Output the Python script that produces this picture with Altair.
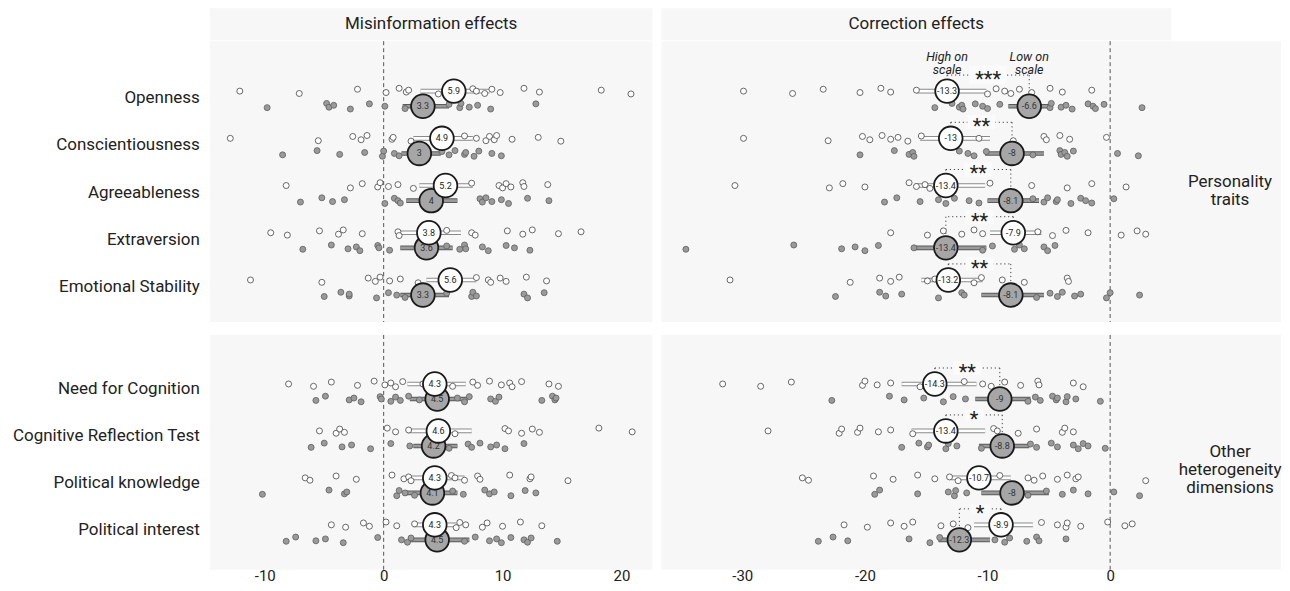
import altair as alt
import pandas as pd

# ---------------- data ----------------
TRAITS = ["Openness", "Conscientiousness", "Agreeableness", "Extraversion", "Emotional Stability"]
OTHER = ["Need for Cognition", "Cognitive Reflection Test", "Political knowledge", "Political interest"]

COL_TITLES = ["Misinformation effects", "Correction effects"]
ROW_TITLES = ["Personality\ntraits", "Other\nheterogeneity\ndimensions"]
ANNOT = ["High on\nscale", "Low on\nscale"]

# (estimate, CI low, CI high)
MIS_HIGH = {
    "Openness": (5.9, 3.1, 8.9), "Conscientiousness": (4.9, 2.5, 7.5), "Agreeableness": (5.2, 3.0, 7.5),
    "Extraversion": (3.8, 1.2, 6.5), "Emotional Stability": (5.6, 3.6, 7.8),
    "Need for Cognition": (4.3, 2.0, 6.9), "Cognitive Reflection Test": (4.6, 2.0, 7.4),
    "Political knowledge": (4.3, 2.2, 6.8), "Political interest": (4.3, 2.5, 6.1),
}
MIS_LOW = {
    "Openness": (3.3, 1.6, 5.5), "Conscientiousness": (3.0, 1.5, 4.8), "Agreeableness": (4.0, 1.9, 6.2),
    "Extraversion": (3.6, 1.4, 5.8), "Emotional Stability": (3.3, 1.4, 5.5),
    "Need for Cognition": (4.5, 2.2, 7.1), "Cognitive Reflection Test": (4.2, 2.5, 6.2),
    "Political knowledge": (4.1, 1.8, 6.2), "Political interest": (4.5, 2.1, 7.2),
}
COR_HIGH = {
    "Openness": (-13.3, -15.8, -10.1), "Conscientiousness": (-13.0, -15.5, -9.8), "Agreeableness": (-13.4, -15.9, -10.2),
    "Extraversion": (-7.9, -9.8, -5.6), "Emotional Stability": (-13.2, -15.4, -10.4),
    "Need for Cognition": (-14.3, -17.0, -10.9), "Cognitive Reflection Test": (-13.4, -16.2, -10.2),
    "Political knowledge": (-10.7, -13.0, -8.1), "Political interest": (-8.9, -11.1, -6.3),
}
COR_LOW = {
    "Openness": (-6.6, -8.3, -4.7), "Conscientiousness": (-8.0, -10.2, -5.4), "Agreeableness": (-8.1, -10.0, -5.8),
    "Extraversion": (-13.4, -16.0, -10.1), "Emotional Stability": (-8.1, -10.5, -5.4),
    "Need for Cognition": (-9.0, -11.0, -6.5), "Cognitive Reflection Test": (-8.8, -10.7, -6.6),
    "Political knowledge": (-8.0, -10.5, -5.0), "Political interest": (-12.3, -14.0, -9.8),
}
COR_STARS = {
    "Openness": "***", "Conscientiousness": "**", "Agreeableness": "**", "Extraversion": "**",
    "Emotional Stability": "**", "Need for Cognition": "**", "Cognitive Reflection Test": "*",
    "Political knowledge": "", "Political interest": "*",
}

# individual study estimates
MIS_PTS_HIGH = {
    "Openness": [-12.1, -7.1, -2.2, 0.2, 1.3, 1.9, 2.1, 4.6, 7.5, 7.8, 8.5, 9.1, 9.8, 11.8, 13.1, 18.3, 20.8],
    "Conscientiousness": [-12.9, -5.5, -2.6, -1.9, -1.4, 0.7, 0.8, 2.3, 6.8, 7.8, 8.6, 8.9, 9.3, 9.5, 10.8, 13.0, 14.9],
    "Agreeableness": [-8.2, -2.8, -1.8, -0.5, -0.3, 0.4, 1.2, 2.5, 7.4, 9.7, 10.0, 10.3, 10.7, 11.7, 11.8, 13.8],
    "Extraversion": [-9.5, -8.1, -5.4, -3.8, -3.4, -1.8, 1.2, 1.3, 5.3, 7.4, 7.7, 10.4, 11.7, 12.5, 14.7, 16.6],
    "Emotional Stability": [-11.2, -5.2, -1.3, -0.7, -0.3, 0.5, 1.4, 2.9, 7.8, 8.8, 9.0, 9.8, 10.3, 12.0, 13.7],
    "Need for Cognition": [-8.0, -5.9, -4.4, -2.2, -0.8, 0.1, 0.6, 1.0, 1.6, 3.3, 5.8, 7.5, 7.9, 8.9, 9.9, 10.6, 10.8, 11.6, 13.9, 14.7],
    "Cognitive Reflection Test": [-5.4, -4.0, -3.7, -3.3, 0.3, 1.0, 2.1, 6.0, 10.2, 10.5, 11.6, 12.5, 13.1, 18.1, 20.9],
    "Political knowledge": [-6.6, -6.2, -4.0, -2.3, 0.7, 1.7, 2.1, 2.3, 5.7, 6.0, 6.8, 7.9, 8.1, 10.6, 12.3, 12.4, 15.5],
    "Political interest": [-4.4, -3.2, -1.7, -1.2, 0.2, 1.1, 2.6, 6.1, 6.4, 6.9, 8.3, 8.7, 10.0, 11.5, 13.3],
}
MIS_PTS_LOW = {
    "Openness": [-9.8, -4.8, -4.6, -4.2, -2.8, -1.2, 0.1, 1.8, 5.5, 6.4, 6.5, 7.2, 7.9, 9.0, 12.8],
    "Conscientiousness": [-8.5, -5.6, -3.7, -1.6, -0.1, 0.0, 0.9, 1.3, 4.9, 5.5, 6.0, 6.8, 6.9, 7.6, 8.0, 9.1, 9.9],
    "Agreeableness": [-7.0, -5.2, -4.3, -3.3, 0.1, 0.9, 1.2, 1.4, 8.1, 8.3, 8.6, 9.1, 9.9, 10.5, 12.1, 13.9],
    "Extraversion": [-6.8, -4.4, -3.0, -2.3, -2.0, -0.5, -0.4, 0.5, 5.3, 6.4, 6.8, 6.9, 8.3, 8.8, 10.3, 11.0, 12.3],
    "Emotional Stability": [-5.0, -3.6, -2.9, -2.9, -0.6, 0.4, 1.1, 1.8, 5.3, 7.4, 7.5, 7.8, 11.8, 12.1, 13.5],
    "Need for Cognition": [-5.7, -4.9, -2.9, -2.5, -1.9, -0.3, -0.2, 0.6, 1.0, 1.4, 2.1, 3.0, 6.2, 6.8, 7.2, 9.0, 9.4, 9.7, 13.3, 14.2, 14.4, 14.5],
    "Cognitive Reflection Test": [-6.1, -5.0, -3.5, -2.7, -1.1, 0.6, 2.2, 5.5, 7.1, 7.4, 8.1, 9.0, 9.5, 10.2, 11.8],
    "Political knowledge": [-10.2, -4.6, -3.3, -3.1, 1.1, 1.3, 1.8, 2.6, 5.8, 6.7, 8.5, 8.9, 9.3, 10.7, 11.9, 12.8],
    "Political interest": [-8.2, -7.4, -5.7, -4.9, -3.4, -0.5, 1.5, 2.0, 2.3, 6.8, 7.7, 8.9, 9.5, 9.9, 10.7, 11.8, 12.1, 12.4, 14.6],
}
COR_PTS_HIGH = {
    "Openness": [-29.9, -25.9, -23.4, -20.4, -18.7, -17.9, -15.8, -10.0, -9.3, -8.6, -8.1, -7.4, -6.4, -4.9, -3.9, -1.5],
    "Conscientiousness": [-29.9, -23.0, -20.2, -19.6, -18.6, -17.9, -17.3, -16.5, -15.4, -10.7, -7.9, -5.4, -5.2, -4.1, -3.3, -0.3],
    "Agreeableness": [-30.6, -22.9, -21.8, -20.0, -16.4, -15.8, -15.1, -14.7, -9.8, -6.4, -3.5, -1.5, 1.3],
    "Extraversion": [-17.9, -14.9, -13.6, -12.1, -11.1, -10.4, -5.9, -4.7, -3.6, -1.8, 0.9, 2.2, 2.9],
    "Emotional Stability": [-31.0, -21.2, -18.8, -17.9, -17.2, -14.9, -14.3, -11.1, -10.5, -8.8, -7.0, -3.5, -3.4],
    "Need for Cognition": [-31.6, -28.5, -26.0, -20.2, -20.0, -19.0, -17.9, -15.5, -11.9, -10.4, -9.7, -8.6, -7.3, -5.9, -5.8, -3.0, -2.2],
    "Cognitive Reflection Test": [-27.9, -22.1, -21.9, -20.6, -20.4, -18.9, -17.9, -16.1, -9.5, -9.2, -7.5, -6.0, -3.9, -3.7, -3.0],
    "Political knowledge": [-25.1, -24.6, -19.3, -17.7, -15.7, -14.3, -13.1, -12.4, -9.0, -6.7, -6.2, -5.5, -4.3, -3.5, -2.8, -2.6, 2.9],
    "Political interest": [-21.7, -19.8, -17.9, -16.8, -16.1, -13.8, -12.8, -11.6, -5.6, -4.3, -3.6, -3.5, -2.4, -0.2, 1.2, 1.8],
}
COR_PTS_LOW = {
    "Openness": [-14.3, -12.9, -12.3, -12.1, -12.0, -11.0, -10.4, -10.0, -9.0, -4.9, -4.8, -4.0, -3.6, -3.1, -1.8, -1.4, -1.2, -0.5, 2.6],
    "Conscientiousness": [-20.4, -17.6, -16.4, -16.1, -16.0, -12.3, -11.6, -11.1, -10.1, -6.3, -4.1, -4.0, -3.7, -3.5, -3.0, 0.6, 2.3],
    "Agreeableness": [-18.4, -17.4, -15.5, -14.0, -13.4, -12.7, -11.5, -10.7, -6.3, -5.4, -5.1, -4.4, -4.3, -3.2, -2.4, -2.0, -1.5, 0.3],
    "Extraversion": [-34.6, -25.8, -21.9, -20.8, -20.0, -18.9, -16.0, -10.4, -9.6, -7.8, -7.4, -7.0, -5.4, -5.1, -4.5],
    "Emotional Stability": [-22.4, -18.8, -18.3, -17.0, -14.0, -12.1, -11.9, -6.0, -4.9, -4.3, -3.9, -2.9, -2.4, -0.3, 0.0, 2.4],
    "Need for Cognition": [-22.7, -18.0, -16.8, -15.2, -13.6, -12.8, -11.8, -6.7, -6.1, -5.7, -4.7, -4.4, -4.3, -3.6, -3.5, -2.8, -0.8],
    "Cognitive Reflection Test": [-17.0, -15.6, -14.9, -14.8, -13.4, -13.2, -12.5, -10.5, -6.5, -6.0, -4.8, -4.3, -3.0, -2.6, -2.2, -1.8, -0.4],
    "Political knowledge": [-19.2, -18.8, -15.7, -13.2, -12.7, -12.6, -11.7, -6.7, -5.2, -3.9, -3.0, -1.8, 0.3, 2.4],
    "Political interest": [-23.8, -22.6, -21.4, -16.4, -14.7, -13.9, -9.4, -8.6, -8.2, -6.8, -6.0, -5.8, -3.6],
}

MIS_TICKS = [-10, 0, 10, 20]
COR_TICKS = [-30, -20, -10, 0]

# ---------------- layout / style ----------------
FONT = "Roboto"
BG = "#f7f7f7"
TXT = "#222222"
W_L, W_R, W_STRIP, W_LAB = 443, 510, 110, 202
H_HDR, H_TOP, H_BOT = 32, 281, 235
MIS_DOM = [-14.62, 22.61]
COR_DOM = [-36.59, 4.97]
TOP_DOM = [-0.2275, 5.72]
BOT_DOM = [-0.213, 4.787]
OFF_H, OFF_L, BR_OFF, ANN_OFF = 0.17, 0.15, 0.51, 0.90
JIT = [0.0, 0.05, -0.04, 0.03, -0.06, 0.02, -0.02, 0.06, -0.05]
RECT = "M-1,-0.5H1V0.5H-1Z"


def est_frame(cats, high, low, stars):
    rows = []
    for i, c in enumerate(cats, start=1):
        eh, lh, hh = high[c]
        el, ll, hl = low[c]
        s = stars.get(c, "") if stars else ""
        rows.append(dict(cat=c, pos_h=i - OFF_H, pos_l=i + OFF_L, br=i - BR_OFF, ann=i - ANN_OFF,
                         est_h=eh, lo_h=lh, hi_h=hh, est_l=el, lo_l=ll, hi_l=hl,
                         lab_h=f"{eh:g}", lab_l=f"{el:g}", mid=(eh + el) / 2, stars=s,
                         bgsize=(10 + 9 * len(s)) ** 2))
    return pd.DataFrame(rows)


def pts_frame(cats, ph, pl):
    rows = []
    for i, c in enumerate(cats, start=1):
        for k, x in enumerate(pl[c]):
            rows.append(dict(x=x, pos=i + OFF_L + JIT[(k + 3) % len(JIT)], grp="Low"))
        for k, x in enumerate(ph[c]):
            rows.append(dict(x=x, pos=i - OFF_H + JIT[k % len(JIT)], grp="High"))
    return pd.DataFrame(rows)


def panel(cats, high, low, ph, pl, xdom, ydom, w, h, ticks=None, stars=None, annot=False):
    xs = alt.Scale(domain=xdom, nice=False, zero=False)
    ys = alt.Scale(domain=ydom, nice=False, zero=False, reverse=True)
    if ticks:
        xax = alt.Axis(values=ticks, title=None, ticks=False, domain=False, grid=False,
                       labelFontSize=15, labelColor=TXT, labelFont=FONT, labelPadding=-1,
                       labelExpr="toString(datum.value)")
    else:
        xax = None

    def X(f):
        return alt.X(f, type="quantitative", scale=xs, axis=xax)

    def Y(f):
        return alt.Y(f, type="quantitative", scale=ys, axis=None)

    est = est_frame(cats, high, low, stars)
    pts = pts_frame(cats, ph, pl)
    base = alt.Chart(est)
    layers = []
    layers.append(alt.Chart(pd.DataFrame({"z": [0.0]})).mark_rule(
        color="#555555", strokeDash=[4, 3], strokeWidth=1).encode(x=X("z")))
    sig = est[est["stars"] != ""]
    if len(sig):
        b = alt.Chart(sig)
        dot = dict(color="#444444", strokeDash=[1.2, 2.8], strokeWidth=1)
        layers.append(b.mark_rule(**dot).encode(x=X("est_h"), x2="est_l", y=Y("br")))
        layers.append(b.mark_rule(**dot).encode(x=X("est_h"), y=Y("br"), y2="pos_h"))
        layers.append(b.mark_rule(**dot).encode(x=X("est_l"), y=Y("br"), y2="pos_l"))
    # CI bars
    layers.append(base.mark_rule(color="#5a5a5a", strokeWidth=4.6).encode(x=X("lo_l"), x2="hi_l", y=Y("pos_l")))
    layers.append(base.mark_rule(color="#9a9a9a", strokeWidth=2.6).encode(x=X("lo_l"), x2="hi_l", y=Y("pos_l")))
    layers.append(base.mark_rule(color="#8a8a8a", strokeWidth=4.6).encode(x=X("lo_h"), x2="hi_h", y=Y("pos_h")))
    layers.append(base.mark_rule(color="#ffffff", strokeWidth=2.6).encode(x=X("lo_h"), x2="hi_h", y=Y("pos_h")))
    # study points
    layers.append(alt.Chart(pts).mark_circle(size=36, strokeWidth=0.8, opacity=1).encode(
        x=X("x"), y=Y("pos"),
        fill=alt.Fill("grp:N", scale=alt.Scale(domain=["High", "Low"], range=["#ffffff", "#9a9a9a"]), legend=None),
        stroke=alt.Stroke("grp:N", scale=alt.Scale(domain=["High", "Low"], range=["#444444", "#5e5e5e"]), legend=None),
    ))
    # pooled estimates
    layers.append(base.mark_circle(size=560, fill="#a6a6a6", stroke="#1a1a1a", strokeWidth=1.8, opacity=1)
                  .encode(x=X("est_l"), y=Y("pos_l")))
    layers.append(base.mark_text(fontSize=9, font=FONT, color="#333333")
                  .encode(x=X("est_l"), y=Y("pos_l"), text="lab_l:N"))
    layers.append(base.mark_circle(size=560, fill="#ffffff", stroke="#1a1a1a", strokeWidth=1.8, opacity=1)
                  .encode(x=X("est_h"), y=Y("pos_h")))
    layers.append(base.mark_text(fontSize=9, font=FONT, color="#222222")
                  .encode(x=X("est_h"), y=Y("pos_h"), text="lab_h:N"))
    if len(sig):
        b = alt.Chart(sig)
        layers.append(b.mark_point(shape=RECT, filled=True, fill="#fbfbfb", opacity=1, strokeWidth=0)
                      .encode(x=X("mid"), y=Y("br"), size=alt.Size("bgsize:Q", scale=None, legend=None)))
        layers.append(b.mark_text(fontSize=20, font=FONT, color=TXT, dy=5)
                      .encode(x=X("mid"), y=Y("br"), text="stars:N"))
    if annot:
        first = est.iloc[0]
        ann = pd.DataFrame({"t": ANNOT, "x": [first["est_h"], first["est_l"]], "y": [first["ann"]] * 2})
        layers.append(alt.Chart(ann).mark_text(fontSize=12.5, font=FONT, fontStyle="italic", color=TXT,
                                               lineBreak="\n", lineHeight=13.5)
                      .encode(x=X("x"), y=Y("y"), text="t:N"))
    return alt.layer(*layers).properties(width=w, height=h, view=alt.ViewBackground(fill=BG, strokeWidth=0))


def labels(cats, ydom, h):
    ys = alt.Scale(domain=ydom, nice=False, zero=False, reverse=True)
    df = pd.DataFrame({"cat": cats, "pos": list(range(1, len(cats) + 1))})
    return alt.Chart(df).mark_text(align="right", fontSize=17, font=FONT, color=TXT).encode(
        y=alt.Y("pos:Q", scale=ys, axis=None), x=alt.value(W_LAB - 10), text="cat:N"
    ).properties(width=W_LAB, height=h, view=alt.ViewBackground(fill="#ffffff", strokeWidth=0))


def textbox(txt, w, h, fill, cx=None):
    return alt.Chart(pd.DataFrame({"t": [txt]})).mark_text(
        fontSize=17, font=FONT, color=TXT, lineBreak="\n", lineHeight=18
    ).encode(text="t:N", x=alt.value(cx if cx is not None else w / 2), y=alt.value(h / 2)).properties(
        width=w, height=h, view=alt.ViewBackground(fill=fill, strokeWidth=0))


tl = panel(TRAITS, MIS_HIGH, MIS_LOW, MIS_PTS_HIGH, MIS_PTS_LOW, MIS_DOM, TOP_DOM, W_L, H_TOP)
bl = panel(OTHER, MIS_HIGH, MIS_LOW, MIS_PTS_HIGH, MIS_PTS_LOW, MIS_DOM, BOT_DOM, W_L, H_BOT, ticks=MIS_TICKS)
tr = panel(TRAITS, COR_HIGH, COR_LOW, COR_PTS_HIGH, COR_PTS_LOW, COR_DOM, TOP_DOM, W_R, H_TOP,
           stars=COR_STARS, annot=True)
br = panel(OTHER, COR_HIGH, COR_LOW, COR_PTS_HIGH, COR_PTS_LOW, COR_DOM, BOT_DOM, W_R, H_BOT,
           ticks=COR_TICKS, stars=COR_STARS)

STRIP_CX = W_STRIP / 2 + 4
col_a = alt.vconcat(textbox("", W_LAB, H_HDR, "#ffffff"),
                    alt.vconcat(labels(TRAITS, TOP_DOM, H_TOP), labels(OTHER, BOT_DOM, H_BOT), spacing=11),
                    spacing=0)
col_b = alt.vconcat(textbox(COL_TITLES[0], W_L, H_HDR, BG), alt.vconcat(tl, bl, spacing=11), spacing=0)
col_c = alt.vconcat(
    alt.hconcat(textbox(COL_TITLES[1], W_R, H_HDR, BG), textbox("", W_STRIP, H_HDR, "#ffffff"), spacing=0),
    alt.vconcat(
        alt.hconcat(tr, textbox(ROW_TITLES[0], W_STRIP, H_TOP, BG, STRIP_CX), spacing=0),
        alt.hconcat(br, textbox(ROW_TITLES[1], W_STRIP, H_BOT, BG, STRIP_CX), spacing=0),
        spacing=11),
    spacing=0)

chart = alt.hconcat(col_a, alt.hconcat(col_b, col_c, spacing=9), spacing=0).properties(
    padding=0, background="#ffffff"
).configure_view(strokeWidth=0).configure(font=FONT)

chart.save("out.html", embed_options={"renderer": "svg", "actions": False})
